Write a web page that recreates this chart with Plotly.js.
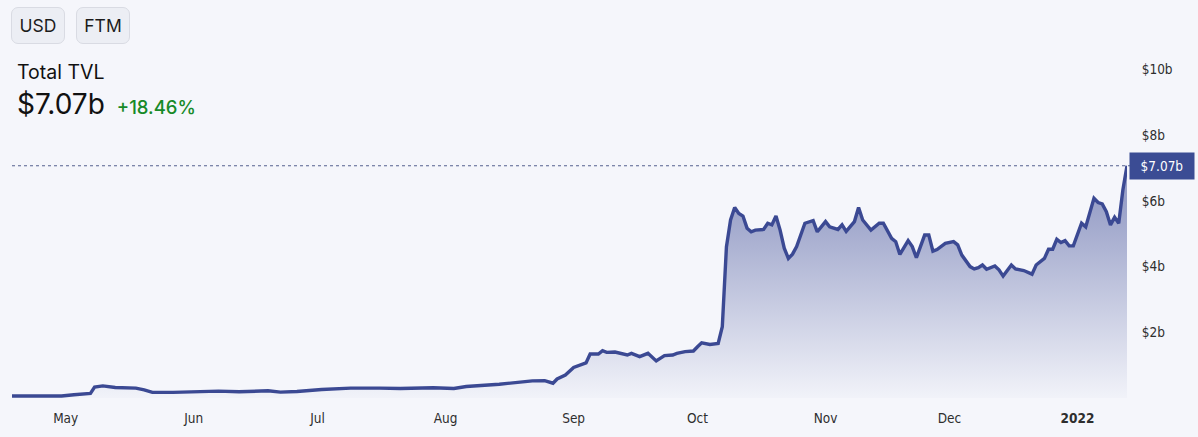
<!DOCTYPE html>
<html>
<head>
<meta charset="utf-8">
<script src="https://cdn.plot.ly/plotly-3.0.1.min.js"></script>
<style>
  html, body { margin: 0; padding: 0; background: #f5f6fb; }
  #wrap { position: relative; width: 1198px; height: 437px; }
  #tvlplot { position: absolute; left: 0; top: 0; width: 1198px; height: 437px; }
  .btn {
    position: absolute; top: 7px; height: 35px; width: 52px;
    border: 1px solid #d9dbe3; border-radius: 7px; background: #eceef4;
    font-family: Inter, "Noto Sans", sans-serif; font-size: 17.5px; color: #1c1c1c;
    line-height: 35px; text-align: center;
  }
  #head { position: absolute; left: 17px; top: 60px; font-family: Inter, "Noto Sans", sans-serif; color: #111; }
  #head .lbl { font-size: 19.5px; }
  #head .big { font-size: 28px; margin-top: 3px; }
  #head .chg { font-size: 18.5px; color: #178a28; margin-left: 12px; font-weight: 500; }
</style>
</head>
<body>
<div id="wrap">
  <div id="tvlplot"></div>
  <div class="btn" style="left:11px">USD</div>
  <div class="btn" style="left:76px">FTM</div>
  <div id="head">
    <div class="lbl">Total TVL</div>
    <div class="big">$7.07b<span class="chg">+18.46%</span></div>
  </div>
</div>
<script>
// Daily TVL in billions of USD
var tvlDates = [
  '2021-04-18','2021-04-24','2021-04-30','2021-05-03','2021-05-07','2021-05-08','2021-05-10',
  '2021-05-13','2021-05-18','2021-05-20','2021-05-22','2021-05-27','2021-06-02','2021-06-07',
  '2021-06-12','2021-06-19','2021-06-22','2021-06-26','2021-07-02','2021-07-09','2021-07-16',
  '2021-07-21','2021-07-29','2021-08-03','2021-08-06','2021-08-14','2021-08-22','2021-08-25',
  '2021-08-27','2021-08-28','2021-08-30','2021-09-01','2021-09-04','2021-09-05','2021-09-07',
  '2021-09-08','2021-09-09','2021-09-11','2021-09-14','2021-09-15','2021-09-17','2021-09-19',
  '2021-09-21','2021-09-23','2021-09-25','2021-09-26','2021-09-28','2021-09-30','2021-10-01',
  '2021-10-02','2021-10-04','2021-10-06','2021-10-07','2021-10-08','2021-10-09','2021-10-10',
  '2021-10-11','2021-10-12','2021-10-13','2021-10-14','2021-10-15','2021-10-17','2021-10-18',
  '2021-10-19','2021-10-20','2021-10-21','2021-10-22','2021-10-23','2021-10-24','2021-10-25',
  '2021-10-27','2021-10-29','2021-10-30','2021-11-01','2021-11-02','2021-11-04','2021-11-05',
  '2021-11-06','2021-11-08','2021-11-09','2021-11-10','2021-11-12','2021-11-14','2021-11-15',
  '2021-11-17','2021-11-18','2021-11-19','2021-11-21','2021-11-22','2021-11-23','2021-11-25',
  '2021-11-26','2021-11-27','2021-11-28','2021-11-30','2021-12-02','2021-12-03','2021-12-04',
  '2021-12-06','2021-12-07','2021-12-08','2021-12-09','2021-12-10','2021-12-12','2021-12-13',
  '2021-12-14','2021-12-16','2021-12-17','2021-12-19','2021-12-21','2021-12-22','2021-12-24',
  '2021-12-25','2021-12-26','2021-12-27','2021-12-28','2021-12-29','2021-12-30','2021-12-31',
  '2022-01-02','2022-01-03','2022-01-05','2022-01-06','2022-01-07','2022-01-08','2022-01-09',
  '2022-01-10','2022-01-11','2022-01-12','2022-01-13'
];
var tvlValues = [
  0.06,0.06,0.06,0.10,0.14,0.33,0.37,
  0.32,0.30,0.25,0.17,0.17,0.20,0.21,
  0.19,0.22,0.18,0.20,0.26,0.30,0.30,
  0.29,0.31,0.29,0.35,0.42,0.52,0.53,
  0.45,0.58,0.70,0.93,1.07,1.34,1.34,
  1.44,1.39,1.40,1.31,1.36,1.26,1.36,
  1.13,1.29,1.31,1.36,1.41,1.43,1.56,
  1.68,1.63,1.66,2.17,4.60,5.42,5.80,
  5.62,5.54,5.17,5.06,5.11,5.13,5.32,
  5.27,5.54,5.11,4.56,4.25,4.38,4.61,
  5.32,5.40,5.06,5.37,5.21,5.13,5.27,
  5.07,5.37,5.80,5.42,5.11,5.32,5.32,
  4.86,4.76,4.37,4.79,4.61,4.27,4.96,
  4.96,4.47,4.52,4.71,4.76,4.66,4.35,
  4.00,3.93,3.97,4.05,3.92,4.02,3.90,
  3.71,4.05,3.93,3.88,3.77,4.05,4.25,
  4.53,4.53,4.83,4.73,4.79,4.63,4.63,
  5.32,5.21,6.08,5.95,5.91,5.67,5.27,
  5.50,5.32,6.33,7.07
];

// Axis ticks
var monthTicks = ['2021-05-01','2021-06-01','2021-07-01','2021-08-01','2021-09-01',
                  '2021-10-01','2021-11-01','2021-12-01','2022-01-01'];
var monthLabels = ['May','Jun','Jul','Aug','Sep','Oct','Nov','Dec','<b>2022</b>'];
var yTicks = [2, 4, 6, 8, 10];
var yLabels = ['$2b','$4b','$6b','$8b','$10b'];

var lastValue = tvlValues[tvlValues.length - 1];

var trace = {
    type: 'scatter',
    mode: 'lines',
    x: tvlDates,
    y: tvlValues,
    line: {color: '#3b4993', width: 3.4},
    fill: 'tozeroy',
    fillgradient: {
        type: 'vertical',
        start: 0,
        stop: 6,
        colorscale: [[0, 'rgba(60,74,148,0.02)'], [1, 'rgba(60,74,148,0.5)']]
    },
    hoverinfo: 'skip'
};

var tickFont = {family: '"DejaVu Sans Condensed", "DejaVu Sans", sans-serif', size: 13.5, color: '#2e2e2e'};

var layout = {
    width: 1198,
    height: 437,
    margin: {l: 12, r: 71, t: 50, b: 39},
    paper_bgcolor: '#f5f6fb',
    plot_bgcolor: 'rgba(0,0,0,0)',
    showlegend: false,
    xaxis: {
        type: 'date',
        range: [tvlDates[0], tvlDates[tvlDates.length - 1]],
        tickvals: monthTicks,
        ticktext: monthLabels,
        showgrid: false,
        zeroline: false,
        showline: false,
        ticks: 'outside',
        ticklen: 8,
        tickcolor: 'rgba(0,0,0,0)',
        tickfont: tickFont
    },
    yaxis: {
        side: 'right',
        range: [0, 10.594],
        tickvals: yTicks,
        ticktext: yLabels,
        showgrid: false,
        zeroline: false,
        showline: false,
        ticks: 'outside',
        ticklen: 11,
        tickcolor: 'rgba(0,0,0,0)',
        tickfont: tickFont
    },
    shapes: [{
        type: 'line', xref: 'paper', x0: 0, x1: 1.004, yref: 'y', y0: lastValue, y1: lastValue,
        line: {color: '#55608f', width: 1, dash: 'dot'}
    }],
    annotations: [{
        xref: 'paper', x: 1, xanchor: 'left', xshift: 2,
        yref: 'y', y: lastValue, yanchor: 'middle',
        text: '$' + lastValue.toFixed(2) + 'b',
        showarrow: false,
        bgcolor: '#3b4c94',
        borderpad: 5,
        width: 54,
        font: {family: '"DejaVu Sans Condensed", "DejaVu Sans", sans-serif', size: 13.5, color: '#ffffff'}
    }]
};

Plotly.newPlot('tvlplot', [trace], layout, {staticPlot: true, displayModeBar: false});
</script>
</body>
</html>
